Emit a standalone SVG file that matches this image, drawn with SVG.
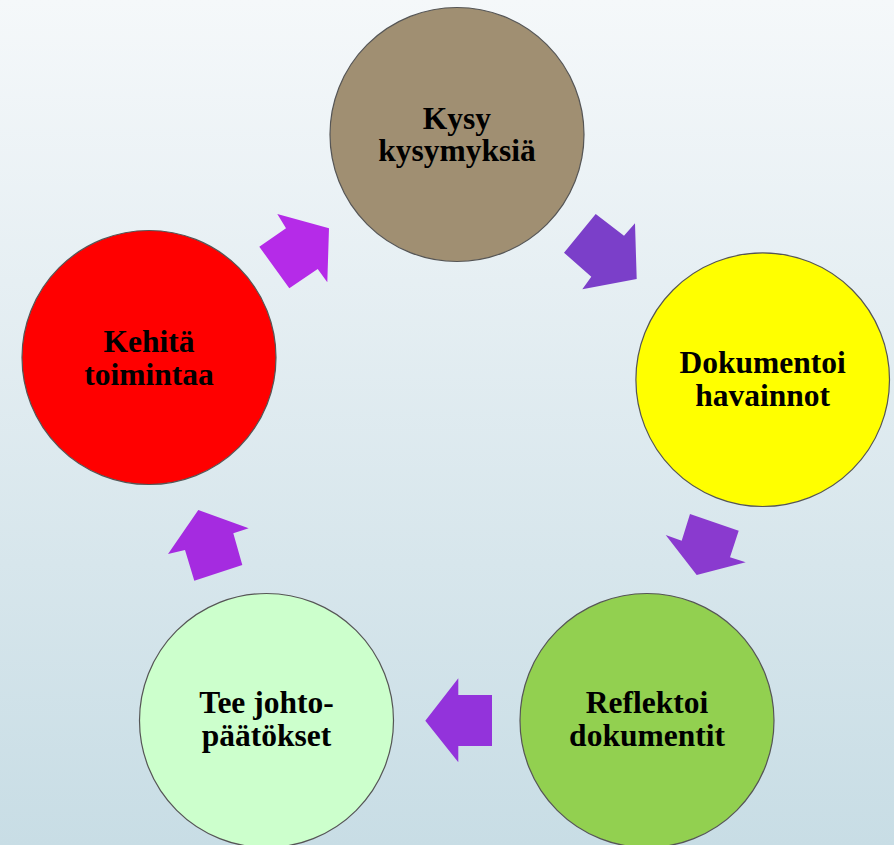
<svg xmlns="http://www.w3.org/2000/svg" width="894" height="845" viewBox="0 0 894 845">
<defs>
<linearGradient id="bg" x1="0" y1="0" x2="0" y2="1">
<stop offset="0" stop-color="#F5F8FA"/>
<stop offset="1" stop-color="#C8DDE5"/>
</linearGradient>
</defs>
<style>
.node circle{stroke:#555;stroke-width:1.2}
.node text{font-family:"Liberation Serif","Times New Roman",serif;font-weight:bold;font-size:31.5px;fill:#000;text-anchor:middle}
</style>
<rect x="0" y="0" width="894" height="845" fill="url(#bg)"/>
<g id="connectors">
<polygon points="595.7,214 624,235.7 635,223.3 636.7,279 582.3,289.3 591.3,276.7 564,252.7" fill="#7B3FC9"/>
<polygon points="690,514 738.7,530.7 730,557.3 745.7,562.3 696.7,575 665.7,535 681.7,540.7" fill="#8A3ACF"/>
<polygon points="425.3,720.7 458.3,678.3 458.3,695 492,695 492,746 458.3,746 458.3,762.3" fill="#9333DB"/>
<polygon points="198.3,510 248.7,528.3 233.3,533.3 242.3,565 194.3,580.7 185,550 168,554" fill="#A52BE0"/>
<polygon points="277.3,214 329,228.3 327.3,282.3 317.7,269 289.3,288.3 259.3,246.7 286,228.3" fill="#B52BE8"/>
</g>
<g id="node-kysy" class="node">
<circle cx="457" cy="134.5" r="127" fill="#A08F72"/>
<text x="457" y="129">Kysy</text>
<text x="457" y="161">kysymyksiä</text>
</g>
<g id="node-dokumentoi" class="node">
<circle cx="762.7" cy="379.7" r="126.8" fill="#FFFF00"/>
<text x="762.7" y="373">Dokumentoi</text>
<text x="762.7" y="406">havainnot</text>
</g>
<g id="node-reflektoi" class="node">
<circle cx="647" cy="720.5" r="127" fill="#92D050"/>
<text x="647" y="713">Reflektoi</text>
<text x="647" y="746">dokumentit</text>
</g>
<g id="node-tee" class="node">
<circle cx="266.5" cy="720.5" r="127" fill="#CCFFCC"/>
<text x="266.5" y="713">Tee johto-</text>
<text x="266.5" y="746">päätökset</text>
</g>
<g id="node-kehita" class="node">
<circle cx="149" cy="357.5" r="127" fill="#FF0000"/>
<text x="149" y="352">Kehitä</text>
<text x="149" y="385">toimintaa</text>
</g>
</svg>
